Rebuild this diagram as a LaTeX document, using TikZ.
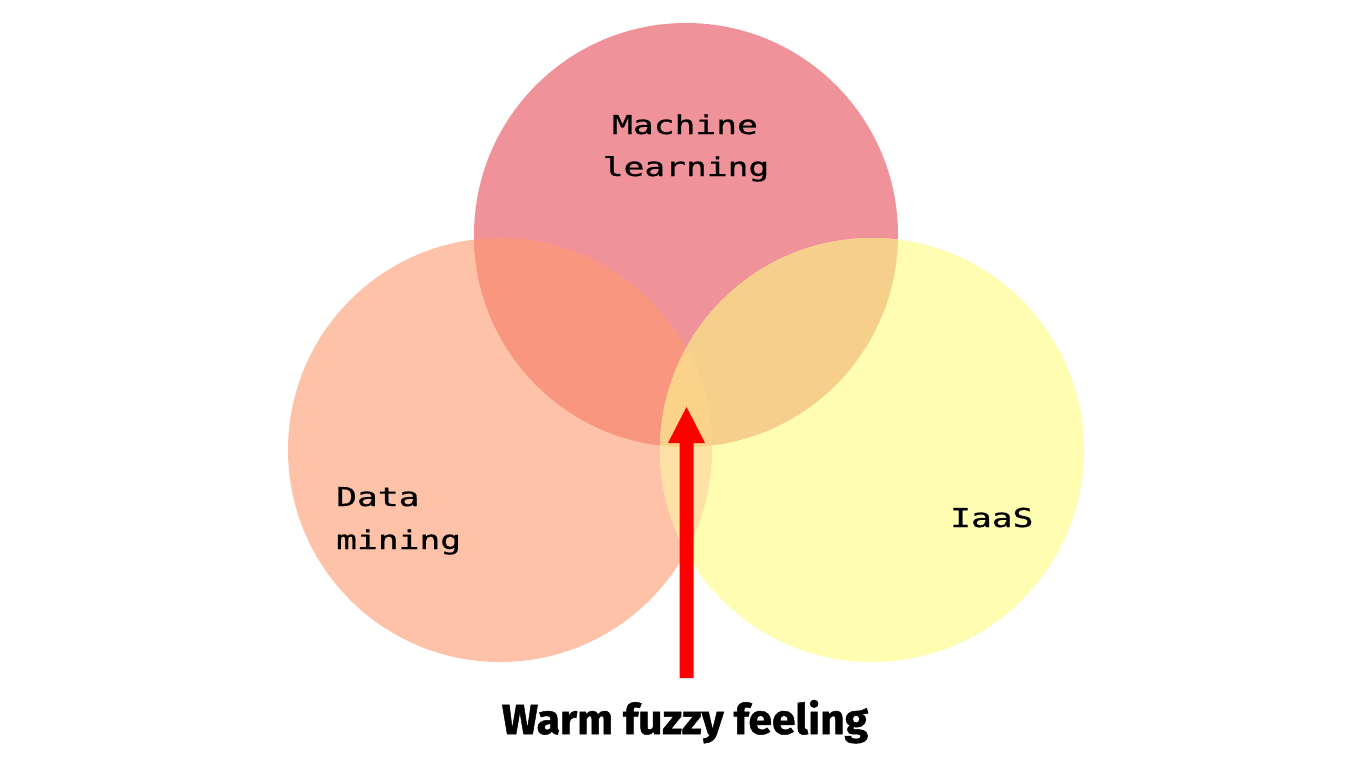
\documentclass[tikz,border=0pt]{standalone}
\usepackage{fontspec}
\usetikzlibrary{calc}
\newfontfamily\labelfont{DejaVu Sans Mono}[FakeBold=0.6]
\newfontfamily\titlefont{Fira Sans}[BoldFeatures={FakeBold=1.2}]

% set colours and their overlaps
\definecolor{colL}{HTML}{FDC2A8}
\definecolor{colT}{HTML}{F0929A}
\definecolor{colR}{HTML}{FFFDB1}
\definecolor{colLT}{HTML}{F8967F}
\definecolor{colTR}{HTML}{F6D08B}
\definecolor{colLR}{HTML}{FEE2A5}
\definecolor{colLTR}{HTML}{FAD28A}
\definecolor{arrowred}{HTML}{FF0000}

% wide monospace lettering for the set names
\newcommand{\widelabel}[1]{\scalebox{1.33}[1]{#1}}

\begin{document}
\begin{tikzpicture}[x=1pt,y=-1pt,
  setlabel/.style={font=\labelfont\fontsize{26}{41}\selectfont, inner sep=0pt, text=black},
  disc/.style={radius=212pt}]
\fill[white] (0,0) rectangle (1372,771);
\useasboundingbox (0,0) rectangle (1372,771);

\coordinate (cT) at (686,235);
\coordinate (cL) at (500,450);
\coordinate (cR) at (872,450);

% the three sets
\fill[colL] (cL) circle[disc];
\fill[colT] (cT) circle[disc];
\fill[colR] (cR) circle[disc];

% pairwise overlaps
\begin{scope}
  \clip (cL) circle[disc];
  \fill[colLT] (cT) circle[disc];
\end{scope}
\begin{scope}
  \clip (cT) circle[disc];
  \fill[colTR] (cR) circle[disc];
\end{scope}
\begin{scope}
  \clip (cL) circle[disc];
  \fill[colLR] (cR) circle[disc];
\end{scope}
% centre, where all three meet
\begin{scope}
  \clip (cL) circle[disc];
  \clip (cT) circle[disc];
  \fill[colLTR] (cR) circle[disc];
\end{scope}

% set labels
\node[setlabel, anchor=base] (ml1) at (685,134) {\widelabel{Machine}};
\node[setlabel, anchor=base] (ml2) at (686,176) {\widelabel{learning}};
\node[setlabel, anchor=base west] (dm1) at (336,506) {\widelabel{Data}};
\node[setlabel, anchor=base west] (dm2) at (336,549) {\widelabel{mining}};
\node[setlabel, anchor=base west] (iaas) at (950,527) {\widelabel{IaaS}};

% caption and the arrow pointing into the centre
\node[anchor=base, inner sep=0pt] (wf) at (685,734)
  {\resizebox{366pt}{34pt}{\titlefont\bfseries Warm fuzzy feeling}};

\coordinate (tip) at (686.5,407);
\fill[arrowred] ($(tip)+(-7,271)$) -- ($(tip)+(-7,36)$) -- ($(tip)+(-18.5,36)$)
  -- (tip) -- ($(tip)+(18.5,36)$) -- ($(tip)+(7,36)$) -- ($(tip)+(7,271)$) -- cycle;
\end{tikzpicture}
\end{document}
